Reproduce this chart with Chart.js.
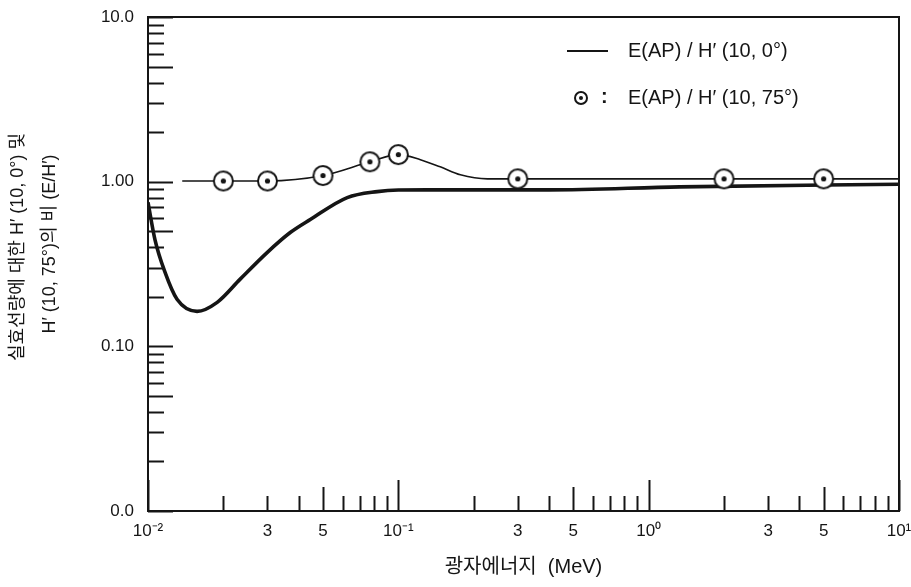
<!DOCTYPE html>
<html lang="ko">
<head>
  <meta charset="UTF-8" />
  <title>E/H' ratio vs photon energy</title>
  <script src="https://cdn.jsdelivr.net/npm/chart.js"></script>
  <style>
    html, body { margin: 0; padding: 0; background: #fff; }
    #wrap { width: 911px; height: 587px; }
  </style>
</head>
<body>
  <div id="wrap"><canvas id="chart" width="911" height="587"></canvas></div>

  <script>
    // E(AP)/H'(10,0°) - thick curve
    const energy0 = [0.01, 0.01066, 0.0117, 0.01306, 0.0157, 0.0189, 0.0233, 0.0299, 0.037, 0.0445, 0.0625, 0.0824, 0.1, 0.13, 0.4, 1.33, 10];
    const ratio0  = [0.75, 0.445, 0.281, 0.193, 0.163, 0.185, 0.255, 0.371, 0.491, 0.589, 0.80, 0.87, 0.89, 0.892, 0.892, 0.93, 0.965];

    // E(AP)/H'(10,75°) - thin curve
    const energy75 = [0.0137, 0.02, 0.03, 0.05, 0.077, 0.1, 0.1225, 0.147, 0.177, 0.227, 0.3, 2, 5, 10];
    const ratio75  = [1.01, 1.01, 1.01, 1.09, 1.32, 1.46, 1.36, 1.23, 1.10, 1.04, 1.04, 1.04, 1.04, 1.04];

    // circled points on the 75° curve
    const markEnergy = [0.02, 0.03, 0.05, 0.077, 0.1, 0.3, 2, 5];
    const markRatio  = [1.01, 1.01, 1.09, 1.32, 1.46, 1.04, 1.04, 1.04];

    // axis ticks
    const decades = [0.01, 0.1, 1, 10];
    const mantissas = [1, 2, 3, 4, 5, 6, 7, 8, 9];
    const xLabelVals = [0.01, 0.03, 0.05, 0.1, 0.3, 0.5, 1, 3, 5, 10];
    const xLabelText = ['10⁻²', '3', '5', '10⁻¹', '3', '5', '10⁰', '3', '5', '10¹'];
    const yLabelVals = [0.01, 0.1, 1, 10];
    const yLabelText = ['0.0', '0.10', '1.00', '10.0'];
    const yTitle = ['실효선량에 대한 H′ (10, 0°) 및', 'H′ (10, 75°)의 비 (E/H′)'];

    const FONT = '"Liberation Sans", Arial, "Noto Sans CJK KR", sans-serif';
    const INK = '#151515';

    const tickVals = [];
    decades.forEach(d => {
      if (d === 10) { tickVals.push(10); return; }
      mantissas.forEach(m => tickVals.push(parseFloat((d * m).toPrecision(6))));
    });

    function labelFor(v, vals, texts) {
      const i = vals.findIndex(t => Math.abs(Math.log10(t) - Math.log10(v)) < 1e-6);
      return i < 0 ? '' : texts[i];
    }
    function mantissa(v) {
      return Math.round(v / Math.pow(10, Math.floor(Math.log10(v) + 1e-9)));
    }

    function ringDot(r, lw, dot) {
      const c = document.createElement('canvas');
      const s = Math.ceil(r * 2 + lw + 2);
      c.width = s; c.height = s;
      const g = c.getContext('2d');
      g.beginPath(); g.arc(s / 2, s / 2, r, 0, Math.PI * 2);
      g.fillStyle = '#fff'; g.fill();
      g.lineWidth = lw; g.strokeStyle = INK; g.stroke();
      g.beginPath(); g.arc(s / 2, s / 2, dot, 0, Math.PI * 2);
      g.fillStyle = INK; g.fill();
      return c;
    }
    const markImg = ringDot(9.5, 2, 2.6);
    const legendImg = ringDot(6, 2, 2);

    // box, inward ticks, y title and legend
    const decor = {
      id: 'decor',
      afterDatasetsDraw(chart) {
        const ctx = chart.ctx;
        const ca = chart.chartArea;
        const xs = chart.scales.x, ys = chart.scales.y;
        ctx.save();
        ctx.strokeStyle = INK;
        ctx.lineWidth = 2;
        ctx.strokeRect(ca.left, ca.top, ca.right - ca.left, ca.bottom - ca.top);

        tickVals.forEach(v => {
          const m = mantissa(v);
          const px = Math.round(xs.getPixelForValue(v)) + 0.5;
          const lx = m === 1 ? 31 : (m === 5 ? 24 : 15);
          ctx.beginPath(); ctx.moveTo(px, ca.bottom); ctx.lineTo(px, ca.bottom - lx); ctx.stroke();
          const py = Math.round(ys.getPixelForValue(v)) + 0.5;
          const ly = (m === 1 || m === 5) ? 25 : 16;
          ctx.beginPath(); ctx.moveTo(ca.left, py); ctx.lineTo(ca.left + ly, py); ctx.stroke();
        });

        ctx.fillStyle = INK;
        ctx.textBaseline = 'middle';

        // y axis title, two rotated lines
        ctx.font = '18px ' + FONT;
        ctx.textAlign = 'center';
        [[18, 247], [50, 244]].forEach((p, i) => {
          ctx.save();
          ctx.translate(p[0], p[1]);
          ctx.rotate(-Math.PI / 2);
          ctx.fillText(yTitle[i], 0, 0);
          ctx.restore();
        });

        // legend
        ctx.textAlign = 'left';
        ctx.beginPath(); ctx.moveTo(567, 51); ctx.lineTo(608, 51); ctx.stroke();
        ctx.font = '20px ' + FONT;
        ctx.fillText('E(AP) / H′ (10, 0°)', 628, 51);
        ctx.drawImage(legendImg, 581 - legendImg.width / 2, 98 - legendImg.height / 2);
        ctx.font = 'bold 20px ' + FONT;
        ctx.fillText(':', 601, 97);
        ctx.font = '20px ' + FONT;
        ctx.fillText('E(AP) / H′ (10, 75°)', 628, 98);
        ctx.restore();
      }
    };

    new Chart(document.getElementById('chart'), {
      type: 'line',
      data: {
        datasets: [
          {
            label: 'E(AP)/H\'(10,75°) points',
            data: markEnergy.map((e, i) => ({ x: e, y: markRatio[i] })),
            showLine: false,
            pointStyle: markImg,
            pointRadius: 10,
            order: 0
          },
          {
            label: 'E(AP)/H\'(10,75°)',
            data: energy75.map((e, i) => ({ x: e, y: ratio75[i] })),
            borderColor: INK,
            borderWidth: 1.6,
            pointRadius: 0,
            cubicInterpolationMode: 'monotone',
            order: 1
          },
          {
            label: 'E(AP)/H\'(10,0°)',
            data: energy0.map((e, i) => ({ x: e, y: ratio0[i] })),
            borderColor: INK,
            borderWidth: 3.6,
            pointRadius: 0,
            cubicInterpolationMode: 'monotone',
            order: 2
          }
        ]
      },
      options: {
        responsive: false,
        animation: false,
        layout: { padding: { top: 17, right: 12, left: 0, bottom: 0 } },
        plugins: { legend: { display: false }, tooltip: { enabled: false } },
        scales: {
          x: {
            type: 'logarithmic',
            min: 0.01,
            max: 10,
            afterBuildTicks: s => { s.ticks = tickVals.map(v => ({ value: v })); },
            afterFit: s => { s.height = 76; s.paddingLeft = 0; s.paddingRight = 0; },
            grid: { display: false, drawTicks: false },
            border: { display: false },
            ticks: {
              autoSkip: false,
              maxRotation: 0,
              padding: 10,
              color: INK,
              font: { size: 17, family: FONT },
              callback: v => labelFor(v, xLabelVals, xLabelText)
            },
            title: {
              display: true,
              text: '광자에너지  (MeV)',
              color: INK,
              font: { size: 20, family: FONT },
              padding: { top: 0, bottom: 8 }
            }
          },
          y: {
            type: 'logarithmic',
            min: 0.01,
            max: 10,
            afterBuildTicks: s => { s.ticks = tickVals.map(v => ({ value: v })); },
            afterFit: s => { s.width = 148; s.paddingTop = 0; s.paddingBottom = 0; },
            grid: { display: false, drawTicks: false },
            border: { display: false },
            ticks: {
              autoSkip: false,
              padding: 14,
              color: INK,
              font: { size: 17, family: FONT },
              callback: v => labelFor(v, yLabelVals, yLabelText)
            }
          }
        }
      },
      plugins: [decor]
    });
  </script>
</body>
</html>
